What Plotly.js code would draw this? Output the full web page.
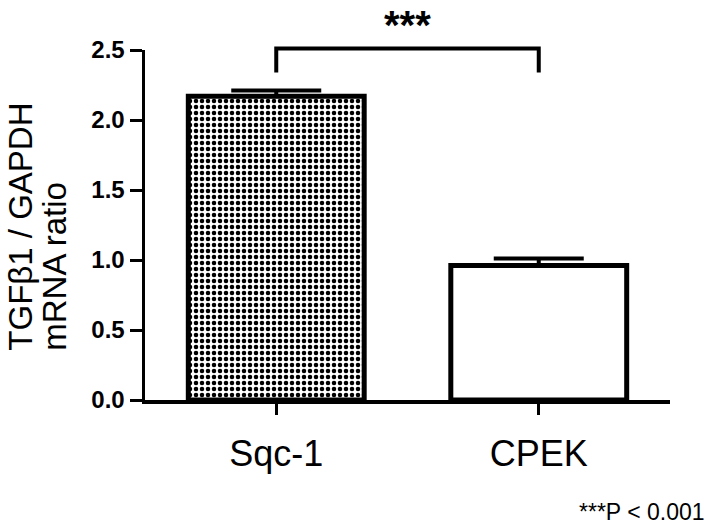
<!DOCTYPE html>
<html>
<head>
<meta charset="utf-8">
<script src="https://cdn.plot.ly/plotly-3.0.1.min.js"></script>
<style>
  body { margin: 0; background: #fff; }
  #chart { width: 721px; height: 527px; }
</style>
</head>
<body>
<div id="chart"></div>
<script>
const groups = ['Sqc-1', 'CPEK'];
const ratios = [2.17, 0.96];
const sem = [0.04, 0.05];
const yTicks = [0, 0.5, 1.0, 1.5, 2.0, 2.5];
const yTickText = ['0.0', '0.5', '1.0', '1.5', '2.0', '2.5'];
const yMax = 2.5;
// significance bracket: from group 0 to group 1, legs from 2.34 up to 2.51
const bracketLow = 2.34;
const bracketHigh = 2.51;

const font = 'Arial, "Liberation Sans", sans-serif';

const errorBar = (i) => ({
    type: 'data',
    symmetric: false,
    array: [sem[i]],
    arrayminus: [0],
    color: '#000',
    thickness: 4,
    width: 45
});

// checkered bar (Sqc-1)
const checkered = {
    type: 'bar',
    x: [groups[0]],
    y: [ratios[0]],
    width: 0.67,
    marker: {
        color: '#000',
        line: { color: '#000', width: 5 },
        pattern: {
            shape: '.',
            size: 6,
            solidity: 0.45,
            fillmode: 'replace',
            fgcolor: '#000',
            bgcolor: '#fff',
            fgopacity: 1
        }
    },
    error_y: errorBar(0),
    hoverinfo: 'skip'
};

// open bar (CPEK)
const open = {
    type: 'bar',
    x: [groups[1]],
    y: [ratios[1]],
    width: 0.67,
    marker: {
        color: '#fff',
        line: { color: '#000', width: 5 }
    },
    error_y: errorBar(1),
    hoverinfo: 'skip'
};

const toPaper = (v) => v / yMax;

const layout = {
    width: 721,
    height: 527,
    margin: { l: 145, r: 51, t: 50, b: 127 },
    paper_bgcolor: '#fff',
    plot_bgcolor: '#fff',
    showlegend: false,
    barmode: 'overlay',
    font: { family: font, color: '#000' },
    xaxis: {
        type: 'category',
        categoryorder: 'array',
        categoryarray: groups,
        range: [-0.5, 1.5],
        showgrid: false,
        zeroline: false,
        showline: true,
        linecolor: '#000',
        linewidth: 3.5,
        ticks: 'outside',
        ticklen: 11,
        tickwidth: 3,
        tickcolor: '#000',
        ticklabelstandoff: 8,
        tickfont: { family: font, size: 36, color: '#000' }
    },
    yaxis: {
        range: [0, yMax],
        tickvals: yTicks,
        ticktext: yTickText,
        showgrid: false,
        zeroline: false,
        showline: true,
        linecolor: '#000',
        linewidth: 3.5,
        ticks: 'outside',
        ticklen: 12,
        tickwidth: 3,
        tickcolor: '#000',
        tickfont: { family: font, size: 24, color: '#000', weight: 'bold' }
    },
    shapes: [{
        type: 'path',
        xref: 'x',
        yref: 'paper',
        path: `M 0,${toPaper(bracketLow)} L 0,${toPaper(bracketHigh)} L 1,${toPaper(bracketHigh)} L 1,${toPaper(bracketLow)}`,
        line: { color: '#000', width: 4 }
    }],
    annotations: [
        {
            text: '***',
            xref: 'x', yref: 'paper',
            x: 0.5, y: 1.07,
            xanchor: 'center', yanchor: 'middle',
            showarrow: false,
            font: { family: font, size: 40, color: '#000', weight: 'bold' }
        },
        {
            text: '***P < 0.001',
            xref: 'paper', yref: 'paper',
            x: 1.07, y: -0.32,
            xanchor: 'right', yanchor: 'middle',
            showarrow: false,
            font: { family: font, size: 23, color: '#000' }
        },
        {
            text: 'TGFβ1 / GAPDH',
            xref: 'paper', yref: 'paper',
            x: -0.237, y: 0.134,
            xanchor: 'center', yanchor: 'bottom',
            textangle: -90,
            showarrow: false,
            font: { family: font, size: 33, color: '#000' }
        },
        {
            text: 'mRNA ratio',
            xref: 'paper', yref: 'paper',
            x: -0.173, y: 0.134,
            xanchor: 'center', yanchor: 'bottom',
            textangle: -90,
            showarrow: false,
            font: { family: font, size: 33, color: '#000' }
        }
    ]
};

Plotly.newPlot('chart', [checkered, open], layout, { displayModeBar: false, staticPlot: true });
</script>
</body>
</html>
